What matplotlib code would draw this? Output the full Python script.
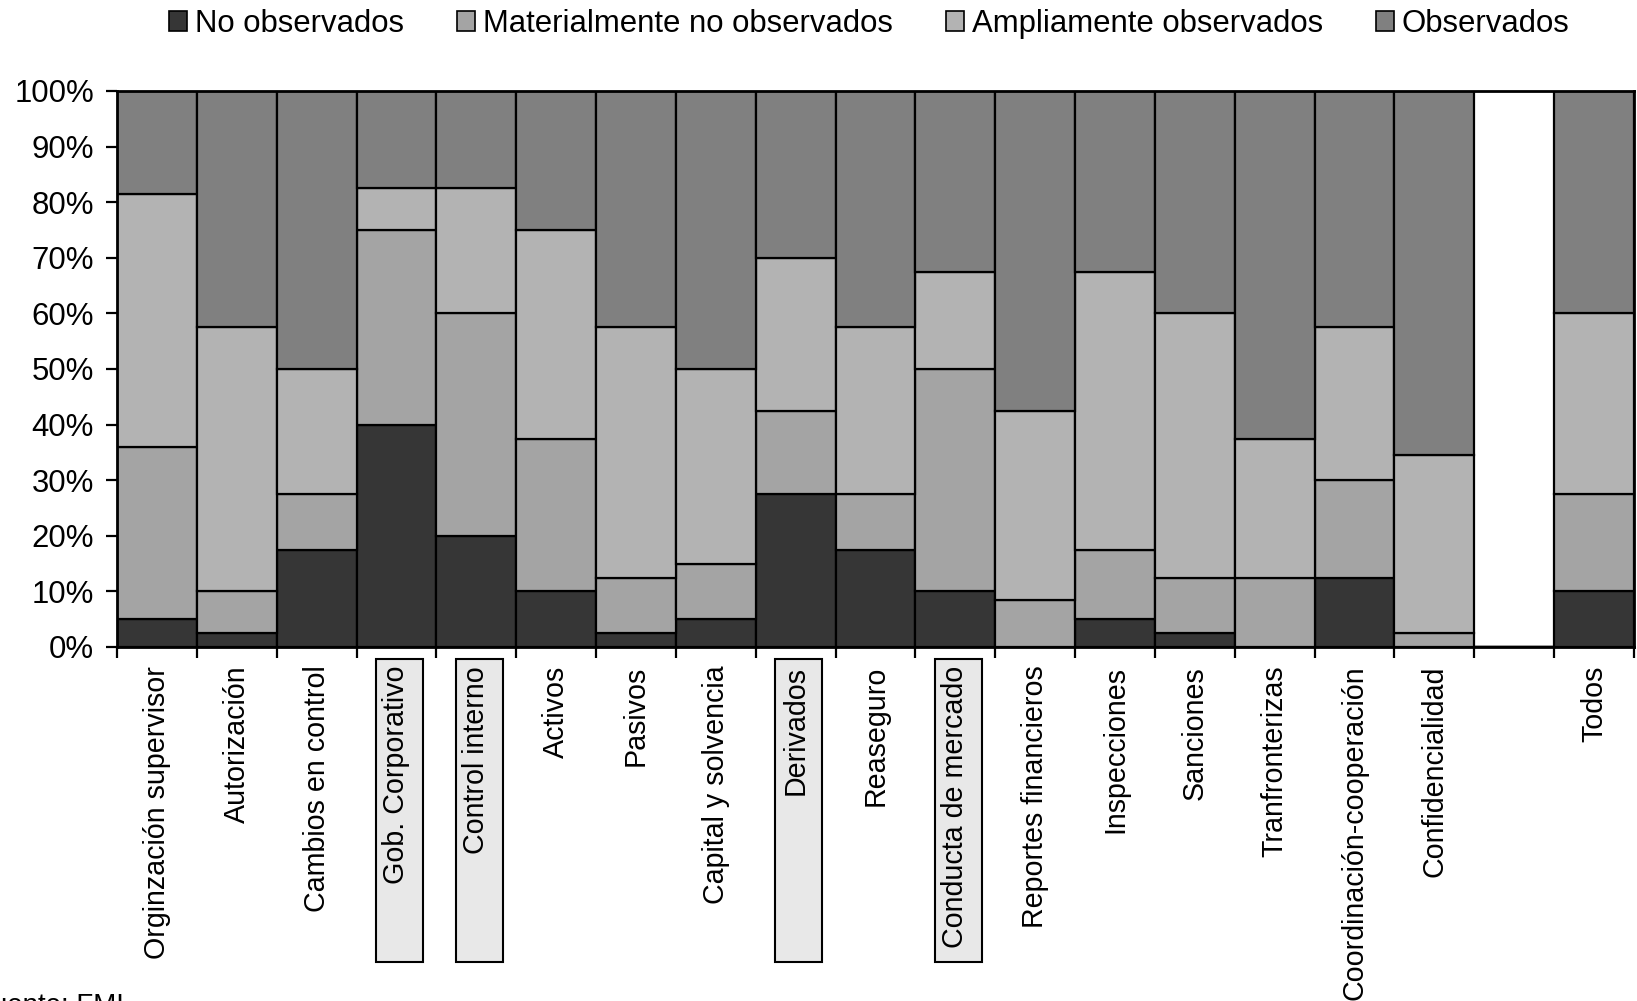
import matplotlib
matplotlib.use("Agg")
import matplotlib.pyplot as plt
from matplotlib.patches import Patch, Rectangle
from matplotlib.transforms import blended_transform_factory
import numpy as np

plt.rcParams['font.family'] = ['Liberation Sans', 'DejaVu Sans']

categories = ["Orginzación supervisor", "Autorización", "Cambios en control",
              "Gob. Corporativo", "Control interno", "Activos", "Pasivos",
              "Capital y solvencia", "Derivados", "Reaseguro", "Conducta de mercado",
              "Reportes financieros", "Inspecciones", "Sanciones", "Tranfronterizas",
              "Coordinación-cooperación", "Confidencialidad", "", "Todos"]
boxed = ["Gob. Corporativo", "Control interno", "Derivados", "Conducta de mercado"]

series_names = ["No observados", "Materialmente no observados",
                "Ampliamente observados", "Observados"]
no_obs   = [5.0, 2.5, 17.5, 40.0, 20.0, 10.0, 2.5, 5.0, 27.5, 17.5, 10.0, 0.0, 5.0, 2.5, 0.0, 12.5, 0.0, 0, 10.0]
mat_no   = [31.0, 7.5, 10.0, 35.0, 40.0, 27.5, 10.0, 10.0, 15.0, 10.0, 40.0, 8.5, 12.5, 10.0, 12.5, 17.5, 2.5, 0, 17.5]
amplia   = [45.5, 47.5, 22.5, 7.5, 22.5, 37.5, 45.0, 35.0, 27.5, 30.0, 17.5, 34.0, 50.0, 47.5, 25.0, 27.5, 32.0, 0, 32.5]
observ   = [18.5, 42.5, 50.0, 17.5, 17.5, 25.0, 42.5, 50.0, 30.0, 42.5, 32.5, 57.5, 32.5, 40.0, 62.5, 42.5, 65.5, 0, 40.0]
colors = ["#363636", "#a4a4a4", "#b3b3b3", "#808080"]

fig = plt.figure(figsize=(16.37, 10.01), dpi=100)
ax = fig.add_axes([117/1637, 1 - 647/1001, (1634 - 117)/1637, (647 - 91)/1001])

x = np.arange(len(categories))
bottom = np.zeros(len(categories))
handles = []
for name, vals, col in zip(series_names, [no_obs, mat_no, amplia, observ], colors):
    vals = np.array(vals, dtype=float)
    ax.bar(x, vals, width=1.0, bottom=bottom, color=col, edgecolor="black", linewidth=1.6)
    bottom += vals
    handles.append(Patch(facecolor=col, edgecolor="black", linewidth=1.2, label=name))

ax.set_xlim(-0.5, len(categories) - 0.5)
ax.set_ylim(0, 100)
ax.set_yticks(np.arange(0, 101, 10))
ax.set_yticklabels([f"{v}%" for v in range(0, 101, 10)], fontsize=22.4)
ax.tick_params(axis="y", direction="out", length=8, width=1.6, pad=8.5)

ax.set_xticks(x)
ax.set_xticklabels(categories, rotation=90, fontsize=20.6, va="top", ha="center")
ax.set_xticks(np.arange(-0.5, len(categories), 1.0), minor=True)
ax.tick_params(axis="x", which="major", length=0, pad=13.5)
ax.tick_params(axis="x", which="minor", direction="out", length=8, width=1.6)
for s in ax.spines.values():
    s.set_linewidth(2.0)

trans = blended_transform_factory(ax.transData, ax.transAxes)
for i, c in enumerate(categories):
    if c in boxed:
        ax.add_patch(Rectangle((i - 0.26, -0.567), 0.59, 0.545, transform=trans,
                               facecolor="#e8e8e8", edgecolor="black", linewidth=1.5,
                               clip_on=False, zorder=0))

fig.legend(handles=handles, loc="center", bbox_to_anchor=(0.531, 1 - 24/1001), ncol=4,
           frameon=False, fontsize=22.4, handlelength=0.58, handleheight=0.58,
           handletextpad=0.26, columnspacing=1.7, borderaxespad=0, borderpad=0)

fig.text(-0.0155, 1 - 993/1001, "Fuente: FMI", fontsize=20, ha="left", va="top")

fig.savefig("out.png", dpi=100)
